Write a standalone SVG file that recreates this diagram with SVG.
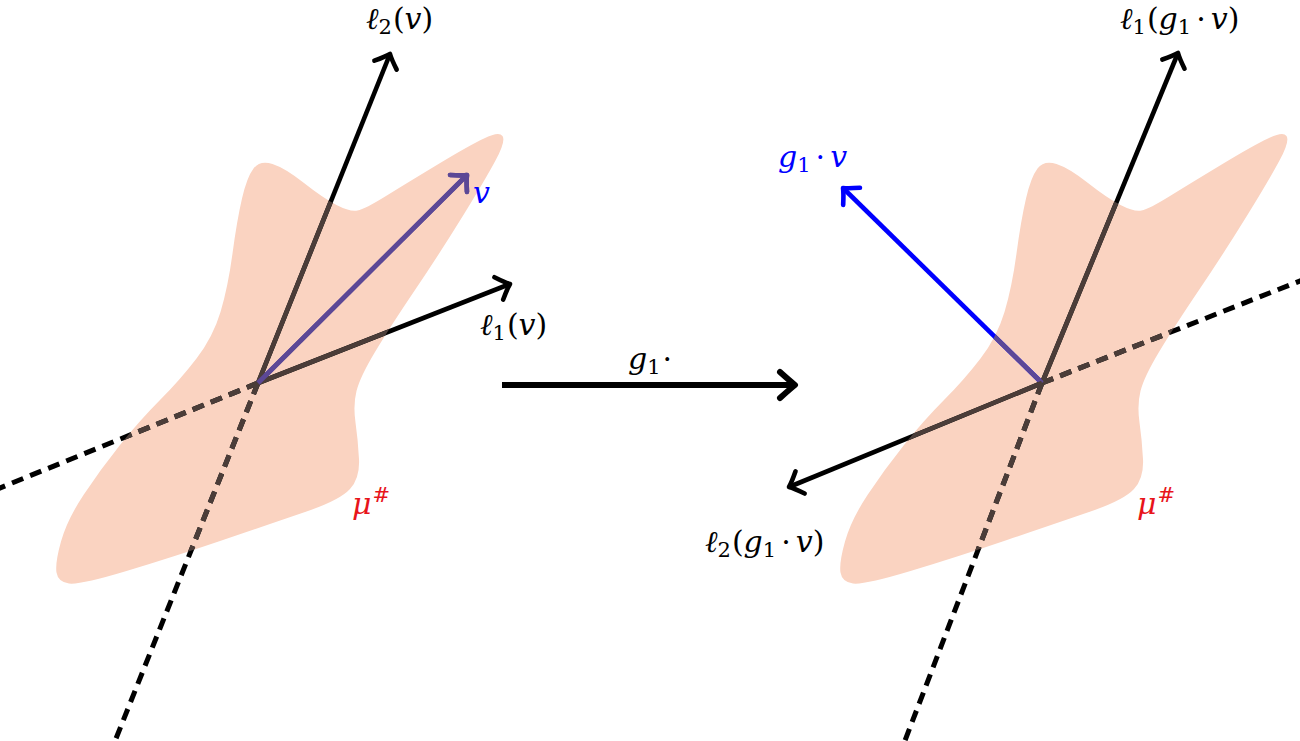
<svg xmlns="http://www.w3.org/2000/svg" xmlns:xlink="http://www.w3.org/1999/xlink" width="1300" height="741" viewBox="0 0 1300 741">
<style>
.ln{fill:none;stroke-width:4.6;stroke-linecap:butt}
.k{stroke:var(--k,#000)}
.b{stroke:var(--b,#0000ff)}
.p{stroke:#5c4896}
.d{stroke-dasharray:12 7.5;stroke-width:5}
.blob{fill:#fad3c1}
.m{font-family:"DejaVu Serif","Liberation Serif",serif;font-size:30px;fill:#000}
.i{font-style:italic}
.s{font-size:21px}
.blue{fill:#0000ff}
.red{fill:#e8141b}
</style>
<defs>
<path id="blobShape" d="M272.5,164 Q285,168 304,183 Q323,198 336.5,205 Q350,212 357.5,210.5 Q365,209 386,196 Q407,183 438.5,164 Q470,145 484,138.5 Q499,131 502.5,136 Q506,141 495.5,160.5 Q485,180 462.5,216.5 Q440,253 415,290 Q390,327 375,352 Q360,377 356.5,391 Q353,405 355.5,422.5 Q358,440 359,459 Q360,478 350,489 Q340,500 306.5,511.5 Q273,523 223,540 Q173,557 126.5,571 Q80,585 69,583.5 Q58,582 56.5,572.5 Q55,563 61,541.5 Q67,520 83.5,495 Q100,470 120,445 Q140,420 160,400 Q180,380 196.5,358.5 Q213,337 220.5,312 Q228,287 232.5,253.5 Q237,220 242,198.5 Q247,177 253.5,168.5 Q260,160 272.5,164 Z"/>
<clipPath id="clipL"><use href="#blobShape"/></clipPath>
<clipPath id="clipR"><use href="#blobShape" transform="translate(784 0)"/></clipPath>
<marker id="ahK" markerUnits="userSpaceOnUse" markerWidth="30" markerHeight="30" refX="0" refY="0" orient="auto" overflow="visible">
<path d="M-12,-12 Q-4,-3 0,0 Q-4,3 -12,12" fill="none" stroke="#000" stroke-width="4.6" stroke-linecap="round" stroke-linejoin="round"/>
</marker>
<marker id="ahB" markerUnits="userSpaceOnUse" markerWidth="30" markerHeight="30" refX="0" refY="0" orient="auto" overflow="visible">
<path d="M-12,-12 Q-4,-3 0,0 Q-4,3 -12,12" fill="none" stroke="#0000ff" stroke-width="4.6" stroke-linecap="round" stroke-linejoin="round"/>
</marker>
<marker id="ahP" markerUnits="userSpaceOnUse" markerWidth="30" markerHeight="30" refX="0" refY="0" orient="auto" overflow="visible">
<path d="M-12,-12 Q-4,-3 0,0 Q-4,3 -12,12" fill="none" stroke="#5c4896" stroke-width="4.6" stroke-linecap="round" stroke-linejoin="round"/>
</marker>
<marker id="ahBig" markerUnits="userSpaceOnUse" markerWidth="40" markerHeight="40" refX="0" refY="0" orient="auto" overflow="visible">
<path d="M-15,-13 Q-5,-4 0,0 Q-5,4 -15,13" fill="none" stroke="#000" stroke-width="6" stroke-linecap="round" stroke-linejoin="round"/>
</marker>
</defs>
<rect width="1300" height="741" fill="#fff"/>
<g id="blob-left"><use href="#blobShape" class="blob"/></g>
<g id="blob-right"><use href="#blobShape" class="blob" transform="translate(784 0)"/></g>
<g id="connectors">
<g id="connL">
<path class="ln k d" d="M258,383 L-10,492"/>
<path class="ln k d" d="M258,383 L111,751"/>
<path class="ln k" d="M258,383 L390,54" marker-end="url(#ahK)"/>
<path class="ln k" d="M258,383 L510,284" marker-end="url(#ahK)"/>
<path class="ln p" d="M258,383 L467,175" marker-end="url(#ahP)"/>
</g>
<g id="connR">
<path class="ln k d" d="M1042,383 L1310,277"/>
<path class="ln k d" d="M1042,383 L901,751"/>
<path class="ln k" d="M1042,383 L1178,53" marker-end="url(#ahK)"/>
<path class="ln b" d="M1042,383 L843,188" marker-end="url(#ahB)"/>
<path class="ln k" d="M1042,383 L789,487" marker-end="url(#ahK)"/>
</g>
<path id="map-arrow" d="M502,385 L795,385" fill="none" stroke="#000" stroke-width="6" marker-end="url(#ahBig)"/>
</g>
<g id="tint-left" clip-path="url(#clipL)"><use href="#connL" style="--k:#4b3d39;--b:#5c4896"/></g>
<g id="tint-right" clip-path="url(#clipR)"><use href="#connR" style="--k:#4b3d39;--b:#5c4896"/></g>
<g id="label-l2v"><text class="m" x="366" y="29"><tspan class="i">ℓ</tspan><tspan class="s" dy="5">2</tspan><tspan dy="-5" dx="1">(</tspan><tspan class="i">v</tspan>)</text></g>
<g id="label-v"><text class="m i blue" x="473" y="203">v</text></g>
<g id="label-l1v"><text class="m" x="480" y="335"><tspan class="i">ℓ</tspan><tspan class="s" dy="5">1</tspan><tspan dy="-5" dx="1">(</tspan><tspan class="i">v</tspan>)</text></g>
<g id="label-g1"><text class="m" x="628" y="369"><tspan class="i">g</tspan><tspan class="s" dy="5">1</tspan><tspan dy="-5" dx="2">·</tspan></text></g>
<g id="label-l1g1v"><text class="m" x="1120" y="29"><tspan class="i">ℓ</tspan><tspan class="s" dy="5">1</tspan><tspan dy="-5" dx="1">(</tspan><tspan class="i">g</tspan><tspan class="s" dy="5">1</tspan><tspan dy="-5" dx="5">·</tspan><tspan class="i" dx="5">v</tspan>)</text></g>
<g id="label-g1v"><text class="m blue" x="778" y="167"><tspan class="i">g</tspan><tspan class="s" dy="5">1</tspan><tspan dy="-5" dx="5">·</tspan><tspan class="i" dx="5">v</tspan></text></g>
<g id="label-l2g1v"><text class="m" x="705" y="552"><tspan class="i">ℓ</tspan><tspan class="s" dy="5">2</tspan><tspan dy="-5" dx="1">(</tspan><tspan class="i">g</tspan><tspan class="s" dy="5">1</tspan><tspan dy="-5" dx="5">·</tspan><tspan class="i" dx="5">v</tspan>)</text></g>
<g id="label-mu-left"><text class="m red" x="352" y="514"><tspan class="i">μ</tspan><tspan class="s" dy="-12" dx="1">#</tspan></text></g>
<g id="label-mu-right"><text class="m red" x="1137" y="514"><tspan class="i">μ</tspan><tspan class="s" dy="-12" dx="1">#</tspan></text></g>
</svg>
